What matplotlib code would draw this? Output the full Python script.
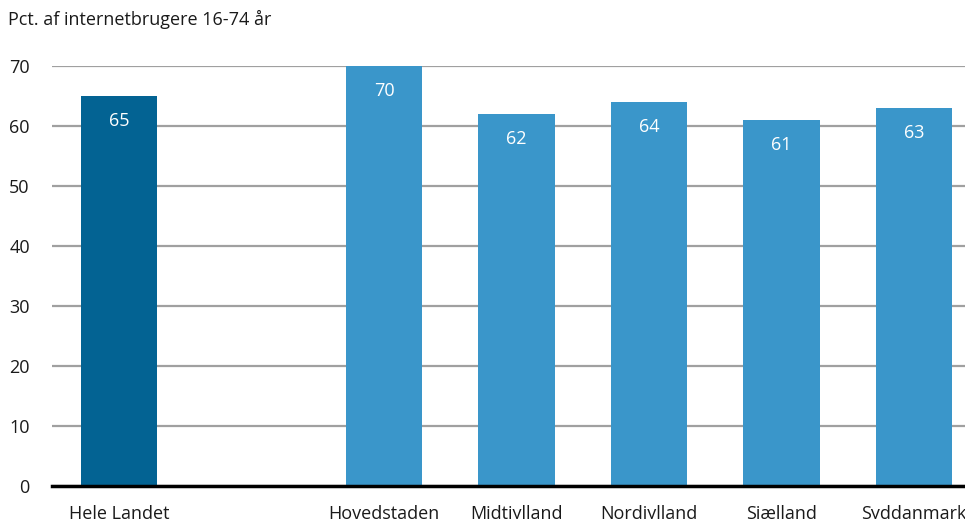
import matplotlib.pyplot as plt
import matplotlib.font_manager as fm

names = {f.name for f in fm.fontManager.ttflist}
font = 'Liberation Sans Narrow' if 'Liberation Sans Narrow' in names else 'Open Sans'
plt.rcParams['font.family'] = [font, 'DejaVu Sans']

# data
regions = ['Hele Landet', 'Hovedstaden', 'Midtjylland', 'Nordjylland', 'Sjælland', 'Syddanmark']
positions = [0, 2, 3, 4, 5, 6]
values = [65, 70, 62, 64, 61, 63]
colors = ['#036393', '#3a96ca', '#3a96ca', '#3a96ca', '#3a96ca', '#3a96ca']

fig = plt.figure(figsize=(9.65, 5.19), dpi=100)
ax = fig.add_axes([52 / 965, 33 / 519, 1 - 52 / 965, 420 / 519])

bars = ax.bar(positions, values, width=0.574, color=colors, zorder=3)
for b, v in zip(bars, values):
    ax.text(b.get_x() + b.get_width() / 2, v - 4.2, str(v), ha='center', va='center',
            color='white', fontsize=13, zorder=4)

ax.set_ylim(0, 70)
ax.set_xlim(-0.506, 6.385)
ax.set_yticks(range(0, 71, 10))
ax.set_xticks(positions)
ax.set_xticklabels(regions)
ax.tick_params(axis='both', length=0, labelsize=13, colors='#1a1a1a')
ax.tick_params(axis='y', pad=16)
ax.tick_params(axis='x', pad=14)
ax.grid(axis='y', color='#a0a0a0', linewidth=1.6, zorder=0)
for s in ['top', 'right', 'left']:
    ax.spines[s].set_visible(False)
ax.spines['bottom'].set_linewidth(2.5)
ax.spines['bottom'].set_color('black')
ax.spines['bottom'].set_zorder(5)

fig.text(8 / 965, 1 - 19 / 519, 'Pct. af internetbrugere 16-74 år', ha='left', va='center',
         fontsize=13, color='#1a1a1a')

fig.savefig('out.png', dpi=100)
